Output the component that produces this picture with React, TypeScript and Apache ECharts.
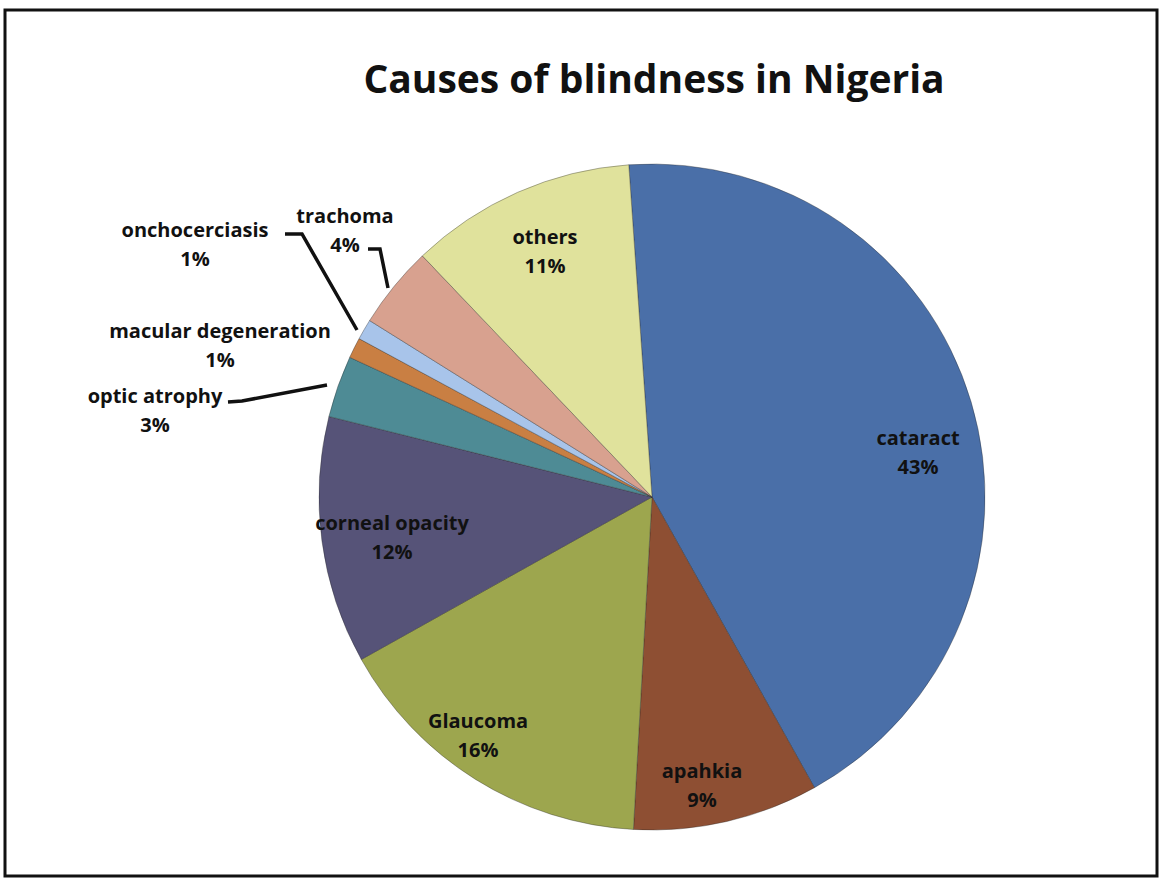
import React, { useEffect, useRef } from "react";
import * as echarts from "echarts";

const title = "Causes of blindness in Nigeria";
const categories = [
  "cataract",
  "apahkia",
  "Glaucoma",
  "corneal opacity",
  "optic atrophy",
  "macular degeneration",
  "onchocerciasis",
  "trachoma",
  "others",
];
const percentages = [43, 9, 16, 12, 3, 1, 1, 4, 11];
const colors = [
  "#4A6FA8",
  "#8E4F33",
  "#9DA64E",
  "#565378",
  "#4E8B95",
  "#C97F43",
  "#A8C4EA",
  "#D8A18F",
  "#E0E29C",
];

// label placement (layout only)
const labelPos: [number, number][] = [
  [918, 452],
  [702, 785],
  [478, 735],
  [392, 537],
  [155, 410],
  [220, 345],
  [195, 244],
  [345, 230],
  [545, 251],
];
const labelLines: ([number, number][] | null)[] = [
  null,
  null,
  null,
  null,
  [
    [228, 402],
    [242, 401],
    [327, 385],
  ],
  null,
  [
    [285, 234],
    [302, 234],
    [357, 330],
  ],
  [
    [368, 249],
    [380, 249],
    [388, 288],
  ],
  null,
];

export default function App() {
  const ref = useRef<HTMLDivElement>(null);
  useEffect(() => {
    if (!ref.current) return;
    const chart = echarts.init(ref.current, null, { renderer: "svg" });
    const font = "'Open Sans', Lato, sans-serif";
    chart.setOption({
      animation: false,
      backgroundColor: "#ffffff",
      title: {
        text: title,
        left: 649,
        top: 53,
        textAlign: "center",
        textStyle: {
          fontFamily: font,
          fontWeight: "bold",
          fontSize: 39,
          color: "#111",
        },
      },
      graphic: [
        {
          type: "rect",
          shape: { x: 5, y: 10, width: 1152, height: 866 },
          style: { fill: "none", stroke: "#111", lineWidth: 3 },
          silent: true,
        },
      ],
      series: [
        {
          type: "pie",
          center: [652, 497],
          radius: 333,
          startAngle: 94,
          clockwise: true,
          avoidLabelOverlap: false,
          itemStyle: { borderColor: "rgba(40,40,40,0.45)", borderWidth: 0.8 },
          label: {
            show: true,
            position: "outside",
            formatter: (p: any) => `${p.name}\n${p.value}%`,
            fontFamily: font,
            fontWeight: "bold",
            fontSize: 20,
            lineHeight: 29,
            color: "#111",
            align: "center",
          },
          labelLine: {
            show: true,
            lineStyle: { color: "#111", width: 3.5 },
          },
          labelLayout: (params: any) => {
            const i = params.dataIndex;
            const res: any = {
              x: labelPos[i][0],
              y: labelPos[i][1],
              align: "center",
              verticalAlign: "middle",
            };
            if (labelLines[i]) res.labelLinePoints = labelLines[i];
            return res;
          },
          data: categories.map((name, i) => ({
            name,
            value: percentages[i],
            itemStyle: { color: colors[i] },
            labelLine: { show: !!labelLines[i] },
          })),
        },
      ],
    });
    return () => chart.dispose();
  }, []);
  return (
    <div
      ref={ref}
      style={{ position: "absolute", left: 0, top: 0, width: 1162, height: 879 }}
    />
  );
}
